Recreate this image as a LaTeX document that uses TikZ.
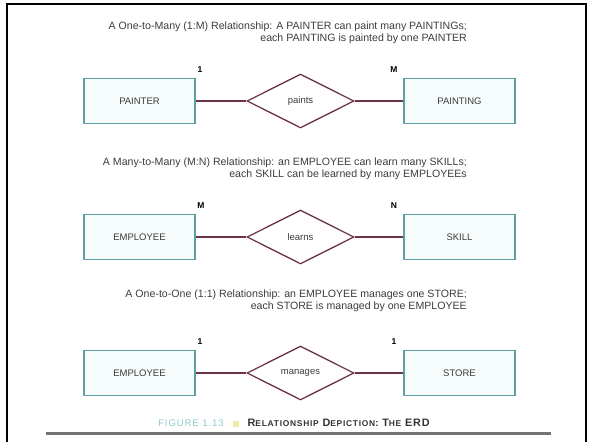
\documentclass[tikz,border=0pt]{standalone}
\usepackage{fontspec}
\setmainfont{Liberation Sans}
\usetikzlibrary{shapes.geometric}
\definecolor{boxline}{HTML}{5E9EA6}
\definecolor{boxfill}{HTML}{F6FCFC}
\definecolor{relline}{HTML}{6E3344}
\definecolor{figcyan}{HTML}{8FC9CC}
\definecolor{figyellow}{HTML}{EFEBA8}
\definecolor{textgray}{HTML}{3C3C3C}
\newcommand{\capword}[2]{{\fontsize{10.8}{11}\selectfont #1}{\fontsize{8.4}{11}\selectfont #2}}
\tikzset{
  entity/.style={draw=boxline, fill=boxfill, line width=1.3pt, minimum width=111pt, minimum height=45pt, inner sep=0pt, font=\fontsize{9.5}{10}\selectfont, text=textgray},
  relation/.style={diamond, draw=relline, line width=1.3pt, fill=white, minimum width=107pt, minimum height=54pt, inner sep=0pt, font=\fontsize{9.5}{10}\selectfont, text=textgray},
  card/.style={font=\bfseries\fontsize{8.5}{9}\selectfont, inner sep=0pt},
  heading/.style={align=right, anchor=east, font=\fontsize{10.6}{11.7}\selectfont, text=textgray, inner sep=0pt},
  link/.style={draw=relline, line width=1.3pt},
}
\begin{document}
\begin{tikzpicture}[x=1pt, y=-1pt]
  \useasboundingbox (0,0) rectangle (591,442);
  % frame and rule
  \draw[line width=2.5pt] (7,442) -- (7,4) -- (586,4) -- (586,442);
  \draw[line width=2.5pt, black!55] (46,433.5) -- (551,433.5);

  % one-to-many
  \node[heading] (head1) at (467,33) {A One-to-Many (1:M) Relationship: A PAINTER can paint many PAINTINGs;\\each PAINTING is painted by one PAINTER};
  \node[entity] (painter) at (139.5,101) {PAINTER};
  \node[relation] (paints) at (300.5,101) {paints};
  \node[entity] (painting) at (459.5,101) {PAINTING};
  \node[card] (one1) at (200,70) {1};
  \node[card] (many1) at (394,70) {M};
  \draw[link] (painter) -- (paints);
  \draw[link] (paints) -- (painting);

  % many-to-many
  \node[heading] (head2) at (467,169) {A Many-to-Many (M:N) Relationship: an EMPLOYEE can learn many SKILLs;\\each SKILL can be learned by many EMPLOYEEs};
  \node[entity] (employee1) at (139.5,237) {EMPLOYEE};
  \node[relation] (learns) at (300.5,237) {learns};
  \node[entity] (skill) at (459.5,237) {SKILL};
  \node[card] (many2) at (201,206) {M};
  \node[card] (many3) at (394,206) {N};
  \draw[link] (employee1) -- (learns);
  \draw[link] (learns) -- (skill);

  % one-to-one
  \node[heading] (head3) at (467,300.5) {A One-to-One (1:1) Relationship: an EMPLOYEE manages one STORE;\\each STORE is managed by one EMPLOYEE};
  \node[entity] (employee2) at (139.5,373) {EMPLOYEE};
  \node[relation] (manages) at (300.5,373) {manages};
  \node[entity] (store) at (459.5,373) {STORE};
  \node[card] (one2) at (200,342) {1};
  \node[card] (one3) at (394,342) {1};
  \draw[link] (employee2) -- (manages);
  \draw[link] (manages) -- (store);

  % caption
  \node[inner sep=0pt, text=black!80] (caption) at (294,423)
    {\addfontfeatures{LetterSpace=9}{\color{figcyan}\fontsize{9.6}{11}\selectfont FIGURE 1.13}\hspace{9pt}{\color{figyellow}\rule{6pt}{6pt}}\hspace{9pt}\bfseries\capword{R}{ELATIONSHIP} \capword{D}{EPICTION}: \capword{T}{HE} \capword{ERD}{}};
\end{tikzpicture}
\end{document}
